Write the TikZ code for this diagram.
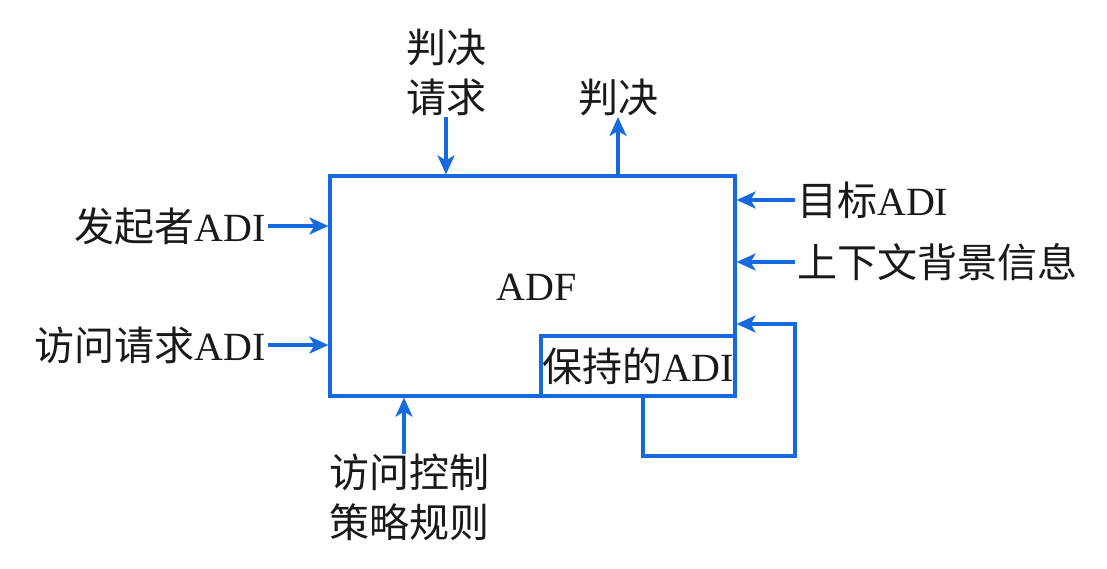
\documentclass[tikz,border=0pt]{standalone}
\usepackage{fontspec}
\setmainfont{Liberation Serif}
\newfontfamily\cjk{Noto Sans CJK SC}
\usetikzlibrary{arrows.meta,calc}
\newcommand\zh[1]{{\cjk #1}}
\definecolor{lb}{RGB}{22,106,222}
\begin{document}
\begin{tikzpicture}[x=1pt,y=-1pt,
  every node/.style={font=\fontsize{40}{50}\selectfont, text=black!90},
  lbl/.style={inner sep=2pt, align=center},
  arr/.style={draw=lb, line width=3.2pt, -{Stealth[length=19pt,width=17pt,inset=5pt]}},
  frame/.style={draw=lb, line width=3.2pt}]
\useasboundingbox (0,0) rectangle (1107,568);
\fill[white] (0,0) rectangle (1107,568);
% main box
\node[frame, minimum width=405pt, minimum height=220pt, inner sep=0pt] (box) at (532.5,286) {};
\node[lbl] (adf) at (537,287) {ADF};
\node[frame, minimum width=194pt, minimum height=60pt, inner sep=0pt, anchor=south east] (hold) at (box.south east) {};
\node[lbl, inner sep=0pt] (holdt) at (hold.center) {\zh{保持的}ADI};
% top
\node[lbl, anchor=south, inner sep=1pt] (jq) at (446,117) {\zh{判决}\\\zh{请求}};
\node[lbl, anchor=south, inner sep=1pt] (jd) at (618,117) {\zh{判决}};
\draw[arr] (jq.south) -- (jq.south |- box.north);
\draw[arr] (jd.south |- box.north) -- (jd.south);
% left
\node[lbl, anchor=east] (ini) at (268,226) {\zh{发起者}ADI};
\node[lbl, anchor=east] (req) at (268,345) {\zh{访问请求}ADI};
\draw[arr] (ini.east) -- (ini.east -| box.west);
\draw[arr] (req.east) -- (req.east -| box.west);
% right
\node[lbl, anchor=west] (tgt) at (795,200) {\zh{目标}ADI};
\node[lbl, anchor=west] (ctx) at (795,262) {\zh{上下文背景信息}};
\draw[arr] (tgt.west) -- (tgt.west -| box.east);
\draw[arr] (ctx.west) -- (ctx.west -| box.east);
% loop
\coordinate (lpb) at (795,456);
\coordinate (lpt) at (795,324);
\draw[arr] ([xshift=5pt]hold.south) |- (lpb) -- (lpt) -- (lpt -| box.east);
% bottom
\node[lbl, anchor=north, inner sep=0pt] (pol) at (409,454) {\zh{访问控制}\\\zh{策略规则}};
\draw[arr] ([xshift=-5pt]pol.north) -- ([xshift=-5pt]pol.north |- box.south);
\end{tikzpicture}
\end{document}
